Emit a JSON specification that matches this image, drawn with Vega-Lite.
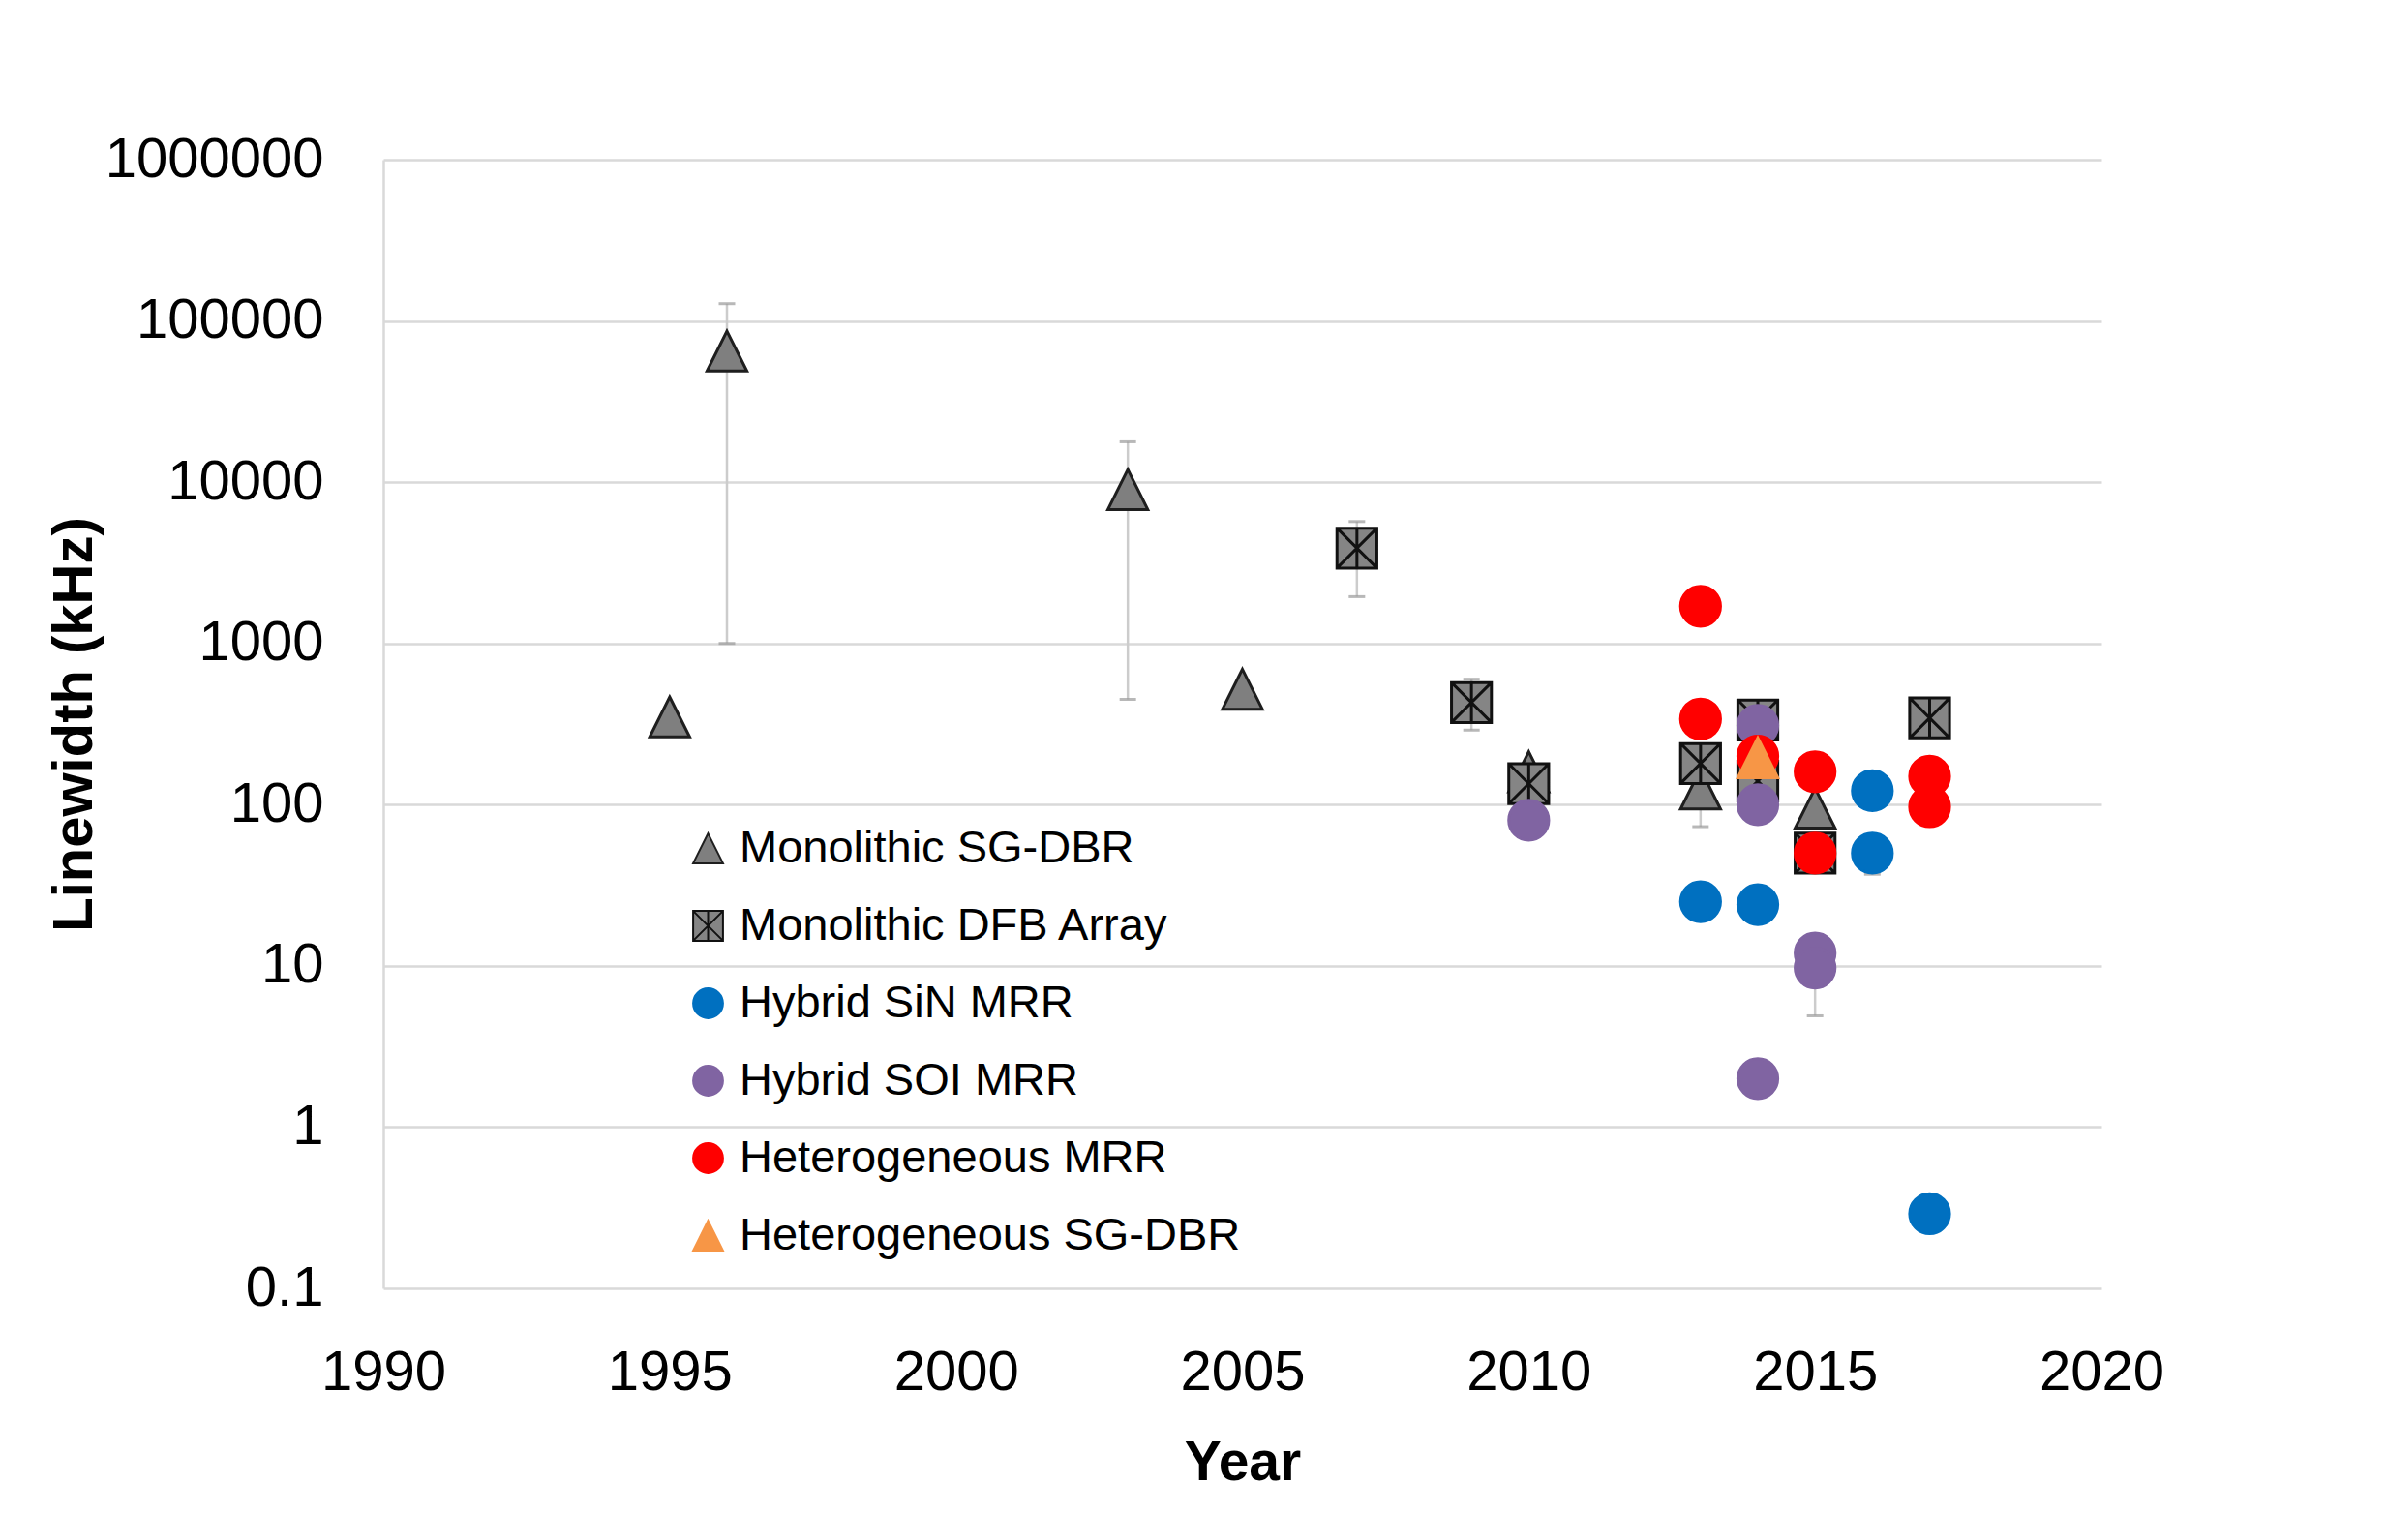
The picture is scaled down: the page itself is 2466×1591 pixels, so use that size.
{
  "$schema": "https://vega.github.io/schema/vega-lite/v6.json",
  "width": 1775,
  "height": 1166,
  "autosize": {"type": "none"},
  "padding": {"left": 396, "top": 165, "right": 295, "bottom": 260},
  "background": "white",
  "datasets": {
    "points": [
      {"year": 1995, "value": 350, "series": "Monolithic SG-DBR"},
      {"year": 1996, "value": 65000, "series": "Monolithic SG-DBR"},
      {"year": 2003, "value": 9000, "series": "Monolithic SG-DBR"},
      {"year": 2005, "value": 520, "series": "Monolithic SG-DBR"},
      {"year": 2010, "value": 160, "series": "Monolithic SG-DBR"},
      {"year": 2013, "value": 125, "series": "Monolithic SG-DBR"},
      {"year": 2015, "value": 95, "series": "Monolithic SG-DBR"},
      {"year": 2007, "value": 3900, "series": "Monolithic DFB Array"},
      {"year": 2009, "value": 430, "series": "Monolithic DFB Array"},
      {"year": 2010, "value": 135, "series": "Monolithic DFB Array"},
      {"year": 2013, "value": 180, "series": "Monolithic DFB Array"},
      {"year": 2014, "value": 335, "series": "Monolithic DFB Array"},
      {"year": 2014, "value": 140, "series": "Monolithic DFB Array"},
      {"year": 2015, "value": 50, "series": "Monolithic DFB Array"},
      {"year": 2017, "value": 345, "series": "Monolithic DFB Array"},
      {"year": 2013, "value": 25, "series": "Hybrid SiN MRR"},
      {"year": 2014, "value": 24, "series": "Hybrid SiN MRR"},
      {"year": 2016, "value": 122, "series": "Hybrid SiN MRR"},
      {"year": 2016, "value": 50, "series": "Hybrid SiN MRR"},
      {"year": 2017, "value": 0.29, "series": "Hybrid SiN MRR"},
      {"year": 2010, "value": 80, "series": "Hybrid SOI MRR"},
      {"year": 2014, "value": 310, "series": "Hybrid SOI MRR"},
      {"year": 2014, "value": 100, "series": "Hybrid SOI MRR"},
      {"year": 2015, "value": 12, "series": "Hybrid SOI MRR"},
      {"year": 2015, "value": 9.7, "series": "Hybrid SOI MRR"},
      {"year": 2014, "value": 2, "series": "Hybrid SOI MRR"},
      {"year": 2013, "value": 1700, "series": "Heterogeneous MRR"},
      {"year": 2013, "value": 340, "series": "Heterogeneous MRR"},
      {"year": 2014, "value": 200, "series": "Heterogeneous MRR"},
      {"year": 2015, "value": 160, "series": "Heterogeneous MRR"},
      {"year": 2015, "value": 50, "series": "Heterogeneous MRR"},
      {"year": 2017, "value": 150, "series": "Heterogeneous MRR"},
      {"year": 2017, "value": 97, "series": "Heterogeneous MRR"},
      {"year": 2014, "value": 195, "series": "Heterogeneous SG-DBR"}
    ],
    "errs": [
      {"year": 1996, "lo": 1000, "hi": 128000},
      {"year": 2003, "lo": 450, "hi": 17800},
      {"year": 2007, "lo": 1950, "hi": 5700},
      {"year": 2009, "lo": 290, "hi": 600},
      {"year": 2013, "lo": 73, "hi": 125},
      {"year": 2015, "lo": 4.9, "hi": 10},
      {"year": 2016, "lo": 37, "hi": 50}
    ]
  },
  "layer": [
    {
      "data": {"name": "points"},
      "mark": {"type": "point", "opacity": 0},
      "encoding": {
        "x": {
          "field": "year",
          "type": "quantitative",
          "scale": {"domain": [1990, 2020], "nice": false, "zero": false},
          "title": "Year",
          "axis": {
            "values": [1990, 1995, 2000, 2005, 2010, 2015, 2020],
            "format": "d",
            "grid": false,
            "domain": false,
            "ticks": false,
            "labelFontSize": 58,
            "labelColor": "#000000",
            "labelPadding": 58,
            "labelFlush": false,
            "titleFontSize": 57,
            "titleFontWeight": "bold",
            "titleColor": "#000000",
            "titlePadding": 36
          }
        },
        "y": {
          "field": "value",
          "type": "quantitative",
          "scale": {"type": "log", "domain": [0.1, 1000000], "nice": false},
          "title": "Linewidth (kHz)",
          "axis": {
            "values": [0.1, 1, 10, 100, 1000, 10000, 100000, 1000000],
            "labelExpr": "datum.value < 1 ? '0.1' : format(datum.value, 'd')",
            "grid": true,
            "gridColor": "#D9D9D9",
            "gridWidth": 2.5,
            "domain": true,
            "domainColor": "#D9D9D9",
            "domainWidth": 2.5,
            "ticks": false,
            "labelFontSize": 58,
            "labelColor": "#000000",
            "labelPadding": 62,
            "labelFlush": false,
            "labelLimit": 400,
            "titleFontSize": 58,
            "titleFontWeight": "bold",
            "titleColor": "#000000",
            "titlePadding": 90
          }
        }
      }
    },
    {
      "data": {"name": "errs"},
      "mark": {"type": "rule", "color": "#CCCCCC", "strokeWidth": 2.5},
      "encoding": {
        "x": {"field": "year", "type": "quantitative", "title": "Year"},
        "y": {"field": "lo", "type": "quantitative", "title": "Linewidth (kHz)"},
        "y2": {"field": "hi"}
      }
    },
    {
      "data": {"name": "errs"},
      "transform": [{"fold": ["lo", "hi"], "as": ["end", "bound"]}],
      "mark": {"type": "tick", "orient": "horizontal", "size": 17, "thickness": 3, "color": "#9A9A9A"},
      "encoding": {
        "x": {"field": "year", "type": "quantitative", "title": "Year"},
        "y": {"field": "bound", "type": "quantitative", "title": "Linewidth (kHz)"}
      }
    },
    {
      "data": {"name": "points"},
      "mark": {"type": "point", "filled": true, "opacity": 1, "size": 1700, "strokeWidth": 3},
      "encoding": {
        "x": {"field": "year", "type": "quantitative", "title": "Year"},
        "y": {"field": "value", "type": "quantitative", "title": "Linewidth (kHz)"},
        "color": {
          "field": "series",
          "type": "nominal",
          "scale": {
            "domain": ["Monolithic SG-DBR", "Monolithic DFB Array", "Hybrid SiN MRR", "Hybrid SOI MRR", "Heterogeneous MRR", "Heterogeneous SG-DBR"],
            "range": ["#7F7F7F", "#858585", "#0070C0", "#8064A2", "#FF0000", "#F79646"]
          },
          "legend": {
            "orient": "none",
            "legendX": 312,
            "legendY": 688,
            "title": null,
            "padding": 0,
            "symbolSize": 950,
            "symbolStrokeWidth": 2,
            "labelFontSize": 47,
            "labelColor": "#000000",
            "labelOffset": 9,
            "rowPadding": 32,
            "labelLimit": 800
          }
        },
        "shape": {
          "field": "series",
          "type": "nominal",
          "scale": {
            "domain": ["Monolithic SG-DBR", "Monolithic DFB Array", "Hybrid SiN MRR", "Hybrid SOI MRR", "Heterogeneous MRR", "Heterogeneous SG-DBR"],
            "range": ["M0,-1L1,1L-1,1Z", "M-1,-1L1,-1L1,1L-1,1Z M-1,-1L1,1 M1,-1L-1,1 M0,-1L0,1", "circle", "circle", "circle", "M0,-1L1,1L-1,1Z"]
          }
        },
        "stroke": {
          "field": "series",
          "type": "nominal",
          "scale": {
            "domain": ["Monolithic SG-DBR", "Monolithic DFB Array", "Hybrid SiN MRR", "Hybrid SOI MRR", "Heterogeneous MRR", "Heterogeneous SG-DBR"],
            "range": ["#1E1E1E", "#111111", "#0070C0", "#8064A2", "#FF0000", "#F79646"]
          }
        }
      }
    }
  ],
  "config": {
    "font": "Liberation Sans",
    "view": {"stroke": null}
  }
}
